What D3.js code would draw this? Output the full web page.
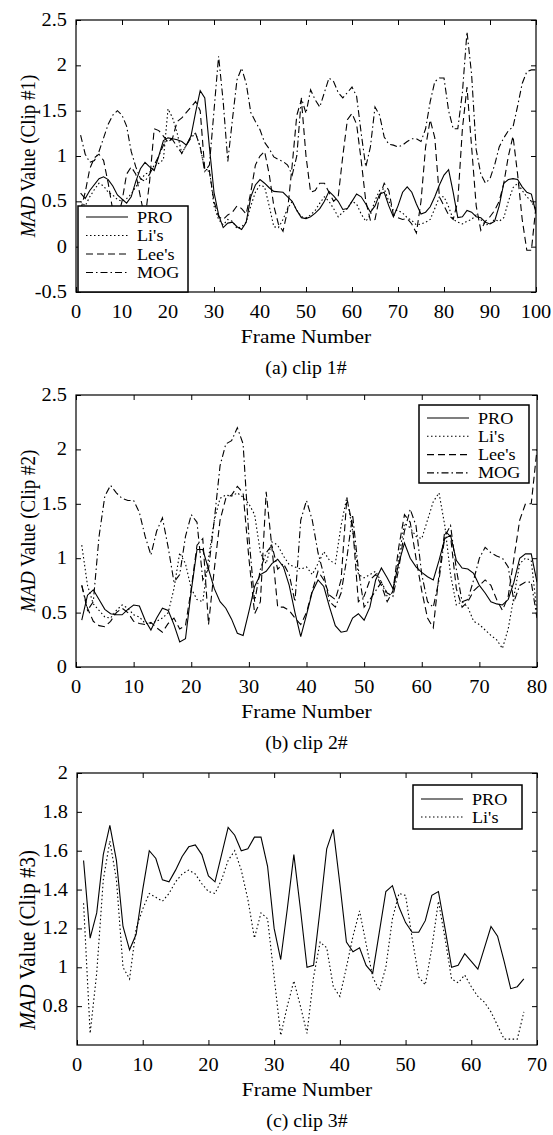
<!DOCTYPE html>
<html>
<head>
<meta charset="utf-8">
<script src="https://cdn.jsdelivr.net/npm/d3@7"></script>
<style>
  body { margin: 0; background: #fff; }
  text { font-family: "Liberation Serif", "Times New Roman", serif; fill: #000; }
</style>
</head>
<body>
<div id="chart"></div>
<script>
// ---- data: [frame, MAD value] ----
const clip1Pro = [[1,0.59],[2,0.53],[3,0.62],[5,0.75],[6,0.77],[7,0.74],[8,0.67],[9,0.57],[11,0.48],[12,0.55],[13,0.72],[14,0.86],[15,0.93],[16,0.88],[17,0.84],[18,1.0],[19,1.17],[20,1.2],[21,1.19],[22,1.18],[23,1.16],[24,1.12],[25,1.22],[26,1.48],[27,1.72],[28,1.64],[29,1.1],[30,0.6],[31,0.35],[32,0.21],[33,0.26],[34,0.27],[35,0.22],[36,0.19],[37,0.27],[38,0.55],[39,0.68],[40,0.74],[41,0.7],[42,0.65],[43,0.61],[45,0.6],[46,0.55],[47,0.5],[48,0.4],[49,0.32],[50,0.31],[51,0.33],[52,0.37],[53,0.42],[54,0.5],[55,0.61],[56,0.56],[57,0.5],[58,0.41],[59,0.42],[60,0.5],[61,0.58],[62,0.55],[63,0.47],[64,0.38],[65,0.45],[66,0.58],[67,0.6],[68,0.45],[69,0.33],[70,0.45],[71,0.6],[72,0.66],[73,0.6],[74,0.47],[75,0.36],[76,0.38],[77,0.44],[78,0.55],[79,0.68],[80,0.79],[81,0.85],[82,0.6],[83,0.32],[84,0.33],[85,0.4],[86,0.38],[87,0.33],[88,0.32],[89,0.27],[90,0.25],[91,0.28],[92,0.45],[93,0.7],[94,0.74],[95,0.75],[96,0.74],[97,0.66],[98,0.6],[99,0.58],[100,0.37]];
const clip1Li = [[1,0.5],[2,0.45],[3,0.55],[4,0.63],[5,0.7],[6,0.67],[7,0.6],[8,0.57],[9,0.52],[10,0.5],[11,0.53],[12,0.58],[13,0.66],[14,0.73],[15,0.8],[16,0.82],[17,0.88],[18,0.92],[19,0.96],[20,1.52],[21,1.42],[22,1.25],[23,1.03],[24,1.12],[25,1.22],[26,1.25],[27,1.1],[28,0.85],[29,0.85],[30,0.45],[31,0.3],[32,0.24],[33,0.3],[34,0.28],[35,0.2],[36,0.22],[37,0.27],[38,0.45],[39,0.6],[40,0.68],[41,0.66],[42,0.45],[43,0.22],[44,0.21],[45,0.3],[46,0.42],[47,0.5],[48,0.4],[49,0.33],[50,0.32],[51,0.35],[52,0.4],[53,0.48],[54,0.55],[55,0.5],[56,0.42],[57,0.33],[58,0.38],[59,0.42],[60,0.5],[61,0.47],[62,0.36],[63,0.28],[64,0.35],[65,0.51],[66,0.62],[67,0.64],[68,0.5],[69,0.4],[70,0.4],[71,0.37],[72,0.32],[73,0.29],[74,0.24],[75,0.25],[76,0.27],[77,0.3],[78,0.42],[79,0.55],[80,0.55],[81,0.44],[82,0.3],[83,0.27],[84,0.25],[85,0.28],[86,0.3],[87,0.35],[88,0.3],[89,0.24],[90,0.25],[91,0.3],[92,0.28],[93,0.32],[94,0.5],[95,0.65],[96,0.7],[97,0.62],[98,0.55],[99,0.5],[100,0.4]];
const clip1Lee = [[1,0.4],[2,0.6],[3,0.86],[4,0.98],[5,1.02],[6,0.95],[7,0.7],[8,0.4],[9,0.3],[10,0.5],[11,0.8],[12,0.88],[13,0.8],[14,0.55],[15,0.3],[16,0.72],[17,1.3],[18,1.28],[19,1.22],[20,1.15],[21,1.2],[22,1.38],[23,1.42],[24,1.48],[25,1.54],[26,1.6],[27,1.5],[28,0.85],[29,0.83],[30,0.5],[31,0.33],[32,0.3],[33,0.35],[34,0.38],[35,0.45],[36,0.42],[37,0.36],[38,0.6],[39,0.9],[40,1.0],[41,1.05],[42,0.8],[43,0.45],[44,0.25],[45,0.17],[46,0.4],[47,0.9],[48,1.45],[49,1.62],[50,1.0],[51,0.6],[52,0.62],[53,0.7],[54,0.7],[55,0.6],[56,0.5],[57,0.55],[58,1.0],[59,1.4],[60,1.47],[61,1.35],[62,0.95],[63,0.5],[64,0.29],[65,0.3],[66,0.55],[67,0.7],[68,0.62],[69,0.35],[70,0.32],[71,0.3],[72,0.31],[73,0.25],[74,0.15],[75,0.5],[76,1.1],[77,1.4],[78,1.2],[79,0.55],[80,0.45],[81,0.35],[82,0.3],[83,0.5],[84,1.3],[85,1.76],[86,1.1],[87,0.45],[88,0.18],[89,0.28],[90,0.33],[91,0.4],[92,0.5],[93,0.7],[94,1.0],[95,1.22],[96,0.8],[97,0.3],[98,-0.04],[99,-0.04],[100,0.45]];
const clip1Mog = [[1,1.23],[2,1.02],[3,0.93],[4,0.95],[5,1.05],[6,1.2],[7,1.35],[8,1.45],[9,1.5],[10,1.45],[11,1.33],[12,1.05],[13,0.88],[14,0.75],[15,0.72],[16,0.8],[17,0.9],[18,1.0],[19,1.12],[20,1.18],[21,1.18],[22,1.1],[23,1.03],[24,1.12],[25,1.2],[26,1.25],[27,1.1],[28,0.83],[29,0.9],[30,1.5],[31,2.1],[32,1.6],[33,0.94],[34,1.4],[35,1.84],[36,1.97],[37,1.8],[38,1.48],[39,1.38],[40,1.29],[41,1.15],[42,1.08],[43,0.99],[44,0.96],[45,0.94],[46,0.9],[47,0.79],[48,1.0],[49,1.64],[50,1.47],[51,1.73],[52,1.62],[53,1.54],[54,1.7],[55,1.86],[56,1.82],[57,1.7],[58,1.64],[59,1.7],[60,1.76],[61,1.66],[62,1.25],[63,0.88],[64,1.1],[65,1.54],[66,1.45],[67,1.21],[68,1.13],[69,1.12],[70,1.1],[71,1.12],[72,1.16],[73,1.19],[74,1.19],[75,1.16],[76,1.3],[77,1.6],[78,1.82],[79,1.86],[80,1.86],[81,1.5],[82,1.3],[83,1.3],[84,1.7],[85,2.37],[86,1.9],[87,1.07],[88,0.8],[89,0.7],[90,0.75],[91,0.9],[92,1.1],[93,1.2],[94,1.28],[95,1.32],[96,1.55],[97,1.8],[98,1.93],[99,1.95],[100,1.95]];

const clip2Pro = [[1,0.43],[2,0.66],[3,0.71],[4,0.62],[5,0.53],[6,0.49],[7,0.48],[8,0.48],[9,0.53],[10,0.57],[11,0.56],[12,0.43],[13,0.34],[14,0.45],[15,0.54],[16,0.52],[17,0.39],[18,0.23],[19,0.26],[20,0.7],[21,1.08],[22,1.08],[23,0.9],[24,0.72],[25,0.6],[26,0.54],[27,0.44],[28,0.31],[29,0.29],[30,0.51],[31,0.74],[32,0.85],[33,0.88],[34,0.95],[35,0.99],[36,0.92],[37,0.75],[38,0.5],[39,0.28],[40,0.48],[41,0.69],[42,0.8],[43,0.74],[44,0.55],[45,0.38],[46,0.32],[47,0.33],[48,0.45],[49,0.49],[50,0.43],[51,0.55],[52,0.8],[53,0.91],[54,0.82],[55,0.72],[56,0.95],[57,1.14],[58,1.0],[59,0.92],[60,0.87],[61,0.83],[62,0.8],[63,0.98],[64,1.18],[65,1.21],[66,0.98],[67,0.91],[68,0.9],[69,0.86],[70,0.75],[71,0.68],[72,0.6],[73,0.58],[74,0.57],[75,0.62],[76,0.78],[77,1.0],[78,1.04],[79,1.04],[80,0.78]];
const clip2Li = [[1,1.12],[2,0.75],[3,0.58],[4,0.52],[5,0.46],[6,0.45],[7,0.52],[8,0.57],[9,0.54],[10,0.48],[11,0.46],[12,0.4],[13,0.4],[14,0.42],[15,0.45],[16,0.5],[17,0.72],[18,1.05],[19,0.95],[20,0.72],[21,0.62],[22,0.6],[23,1.0],[24,1.35],[25,1.55],[26,1.58],[27,1.57],[28,1.6],[29,1.56],[30,1.5],[31,1.4],[32,1.05],[33,0.95],[34,1.15],[35,1.12],[36,1.02],[37,0.94],[38,0.92],[39,0.9],[40,0.92],[41,0.85],[42,0.95],[43,1.06],[44,0.98],[45,0.95],[46,1.3],[47,1.56],[48,1.25],[49,0.85],[50,0.82],[51,0.85],[52,0.88],[53,0.78],[54,0.65],[55,0.68],[56,1.0],[57,1.32],[58,1.28],[59,1.2],[60,1.18],[61,1.35],[62,1.52],[63,1.6],[64,1.3],[65,0.85],[66,0.57],[67,0.6],[68,0.55],[69,0.42],[70,0.39],[71,0.34],[72,0.29],[73,0.25],[74,0.17],[75,0.35],[76,0.65],[77,0.95],[78,1.0],[79,0.98],[80,0.5]];
const clip2Lee = [[1,0.75],[2,0.54],[3,0.42],[4,0.38],[5,0.37],[6,0.42],[7,0.5],[8,0.54],[9,0.5],[10,0.42],[11,0.4],[12,0.39],[13,0.41],[14,0.36],[15,0.32],[16,0.4],[17,0.45],[18,0.35],[19,0.38],[20,0.72],[21,1.12],[22,1.18],[23,0.39],[24,0.9],[25,1.35],[26,1.55],[27,1.58],[28,1.66],[29,1.6],[30,1.0],[31,0.49],[32,0.6],[33,1.61],[34,1.1],[35,0.55],[36,0.55],[37,0.52],[38,0.45],[39,0.39],[40,0.5],[41,0.7],[42,0.88],[43,0.8],[44,0.66],[45,0.62],[46,0.8],[47,1.55],[48,1.3],[49,0.6],[50,0.65],[51,0.8],[52,0.85],[53,0.75],[54,0.6],[55,0.7],[56,1.1],[57,1.4],[58,1.33],[59,1.0],[60,0.7],[61,0.45],[62,0.36],[63,0.85],[64,1.25],[65,1.2],[66,0.72],[67,0.55],[68,0.6],[69,0.7],[70,0.75],[71,0.8],[72,0.75],[73,0.62],[74,0.52],[75,0.65],[76,1.0],[77,1.35],[78,1.5],[79,1.5],[80,2.0]];
const clip2Mog = [[1,0.75],[2,0.52],[3,0.6],[4,1.2],[5,1.57],[6,1.67],[7,1.6],[8,1.55],[9,1.53],[10,1.53],[11,1.42],[12,1.2],[13,1.03],[14,1.25],[15,1.37],[16,1.1],[17,0.78],[18,0.85],[19,1.2],[20,1.4],[21,1.33],[22,0.8],[23,0.9],[24,1.35],[25,1.85],[26,2.05],[27,2.08],[28,2.2],[29,2.05],[30,1.2],[31,0.6],[32,0.9],[33,1.05],[34,1.12],[35,0.9],[36,0.95],[37,0.85],[38,0.6],[39,1.35],[40,1.53],[41,1.35],[42,1.05],[43,0.85],[44,0.6],[45,0.55],[46,0.68],[47,1.0],[48,1.4],[49,0.9],[50,0.55],[51,0.62],[52,0.7],[53,0.78],[54,0.68],[55,0.65],[56,0.9],[57,1.25],[58,1.45],[59,1.3],[60,0.85],[61,0.6],[62,0.55],[63,0.8],[64,1.2],[65,1.3],[66,0.9],[67,0.6],[68,0.62],[69,0.8],[70,1.0],[71,1.1],[72,1.05],[73,1.02],[74,1.0],[75,0.92],[76,0.6],[77,0.75],[78,0.78],[79,0.78],[80,0.45]];

const clip3Pro = [[1,1.55],[2,1.15],[3,1.28],[4,1.58],[5,1.73],[6,1.55],[7,1.21],[8,1.09],[9,1.17],[10,1.4],[11,1.6],[12,1.56],[13,1.45],[14,1.44],[15,1.5],[16,1.57],[17,1.62],[18,1.63],[19,1.58],[20,1.47],[21,1.44],[22,1.58],[23,1.72],[24,1.68],[25,1.6],[26,1.61],[27,1.67],[28,1.67],[29,1.52],[30,1.2],[31,1.04],[32,1.3],[33,1.58],[34,1.3],[35,1.0],[36,1.01],[37,1.3],[38,1.61],[39,1.71],[40,1.43],[41,1.13],[42,1.08],[43,1.1],[44,1.01],[45,0.97],[46,1.18],[47,1.39],[48,1.42],[49,1.31],[50,1.23],[51,1.18],[52,1.18],[53,1.24],[54,1.37],[55,1.39],[56,1.2],[57,1.0],[58,1.01],[59,1.07],[60,1.03],[61,0.99],[62,1.1],[63,1.21],[64,1.16],[65,1.03],[66,0.89],[67,0.9],[68,0.94]];
const clip3Li = [[1,1.33],[2,0.66],[3,0.97],[4,1.45],[5,1.65],[6,1.45],[7,1.0],[8,0.94],[9,1.2],[10,1.3],[11,1.38],[12,1.36],[13,1.34],[14,1.38],[15,1.44],[16,1.48],[17,1.5],[18,1.48],[19,1.43],[20,1.39],[21,1.38],[22,1.45],[23,1.55],[24,1.6],[25,1.5],[26,1.35],[27,1.15],[28,1.28],[29,1.25],[30,0.95],[31,0.65],[32,0.8],[33,0.93],[34,0.8],[35,0.66],[36,0.95],[37,1.13],[38,1.1],[39,0.9],[40,0.85],[41,1.0],[42,1.16],[43,1.29],[44,1.12],[45,0.95],[46,0.88],[47,1.0],[48,1.25],[49,1.38],[50,1.37],[51,1.15],[52,0.95],[53,0.91],[54,1.1],[55,1.34],[56,1.15],[57,0.94],[58,0.92],[59,0.96],[60,0.9],[61,0.85],[62,0.82],[63,0.77],[64,0.7],[65,0.63],[66,0.63],[67,0.63],[68,0.77]];

// tick labels
const clip1XTicks = [0,10,20,30,40,50,60,70,80,90,100];
const clip1YTicks = [-0.5,0,0.5,1,1.5,2,2.5];
const clip2XTicks = [0,10,20,30,40,50,60,70,80];
const clip2YTicks = [0,0.5,1,1.5,2,2.5];
const clip3XTicks = [0,10,20,30,40,50,60,70];
const clip3YTicks = [0.8,1,1.2,1.4,1.6,1.8,2];

const seriesNames = ["PRO", "Li's", "Lee's", "MOG"];
const dashes = { "PRO": null, "Li's": "1.5,2.5", "Lee's": "7,4", "MOG": "7,3,1.5,3" };

// ---- layout ----
const width = 553, height = 1135;
const SX = 1.1; // the picture is a bit wider than tall, so glyphs get stretched sideways

const svg = d3.select("#chart").append("svg")
  .attr("width", width)
  .attr("height", height);

function label(g, x, y, str, size, anchor) {
  return g.append("text")
    .attr("transform", `translate(${x},${y}) scale(${SX},1)`)
    .attr("text-anchor", anchor)
    .style("font-size", size + "px")
    .text(str);
}

function drawPanel(p, idx) {
  const g = svg.append("g");
  const x = d3.scaleLinear().domain([0, p.xTicks[p.xTicks.length - 1]]).range([p.left, p.right]);
  const y = d3.scaleLinear().domain(p.yDomain).range([p.bottom, p.top]);

  g.append("clipPath").attr("id", "clip" + idx)
    .append("rect")
    .attr("x", p.left).attr("y", p.top)
    .attr("width", p.right - p.left).attr("height", p.bottom - p.top);

  // inward ticks on all four sides
  g.append("g").attr("transform", `translate(0,${p.bottom})`)
    .call(d3.axisBottom(x).tickValues(p.xTicks).tickSize(-5).tickFormat(""));
  g.append("g").attr("transform", `translate(0,${p.top})`)
    .call(d3.axisTop(x).tickValues(p.xTicks).tickSize(-5).tickFormat(""));
  g.append("g").attr("transform", `translate(${p.left},0)`)
    .call(d3.axisLeft(y).tickValues(p.yTicks).tickSize(-5).tickFormat(""));
  g.append("g").attr("transform", `translate(${p.right},0)`)
    .call(d3.axisRight(y).tickValues(p.yTicks).tickSize(-5).tickFormat(""));
  g.selectAll(".domain").remove();
  g.selectAll(".tick line").attr("stroke", "#000").attr("stroke-width", 1);

  // tick labels
  p.xTicks.forEach(t => label(g, x(t), p.bottom + 26, String(t), 18.5, "middle"));
  p.yTicks.forEach(t => label(g, p.left - 9, y(t) + 6, String(t), 18.5, "end"));

  // series
  const line = d3.line().x(d => x(d[0])).y(d => y(d[1]));
  p.series.forEach((s, i) => {
    g.append("path")
      .datum(s)
      .attr("clip-path", `url(#clip${idx})`)
      .attr("fill", "none")
      .attr("stroke", "#000")
      .attr("stroke-width", 1.1)
      .attr("stroke-dasharray", dashes[seriesNames[i]])
      .attr("d", line);
  });

  // frame
  g.append("rect")
    .attr("x", p.left).attr("y", p.top)
    .attr("width", p.right - p.left).attr("height", p.bottom - p.top)
    .attr("fill", "none").attr("stroke", "#000").attr("stroke-width", 1.2);

  // legend
  const L = p.legend;
  g.append("rect")
    .attr("x", L.x).attr("y", L.y).attr("width", L.w).attr("height", L.h)
    .attr("fill", "#fff").attr("stroke", "#000").attr("stroke-width", 1.5);
  p.series.forEach((s, i) => {
    const ry = L.y + L.first + i * L.step;
    g.append("line")
      .attr("x1", L.x + 8).attr("x2", L.x + 50)
      .attr("y1", ry).attr("y2", ry)
      .attr("stroke", "#000").attr("stroke-width", 1.1)
      .attr("stroke-dasharray", dashes[seriesNames[i]]);
    label(g, L.x + 59, ry + 5.5, seriesNames[i], 16.5, "start");
  });

  // axis titles and caption
  const yl = g.append("text")
    .attr("transform", `translate(35,${p.labelY}) scale(${SX},1) rotate(-90)`)
    .attr("text-anchor", "middle")
    .style("font-size", p.labelSize + "px");
  yl.append("tspan").style("font-style", "italic").text("MAD");
  yl.append("tspan").text(" Value " + p.ylabel);

  label(g, (p.left + p.right) / 2, p.bottom + 51, "Frame Number", 19.5, "middle");
  label(g, (p.left + p.right) / 2, p.bottom + 82, p.caption, 18, "middle");
}

const panels = [
  { top: 20, bottom: 292, left: 76, right: 536, xTicks: clip1XTicks, yTicks: clip1YTicks, yDomain: [-0.5, 2.5],
    series: [clip1Pro, clip1Li, clip1Lee, clip1Mog], ylabel: "(Clip #1)", caption: "(a) clip 1#", labelY: 156, labelSize: 19,
    legend: { x: 78, y: 206, w: 110, h: 86, first: 11, step: 18.5 } },
  { top: 395, bottom: 667, left: 76, right: 537, xTicks: clip2XTicks, yTicks: clip2YTicks, yDomain: [0, 2.5],
    series: [clip2Pro, clip2Li, clip2Lee, clip2Mog], ylabel: "(Clip #2)", caption: "(b) clip 2#", labelY: 531, labelSize: 19,
    legend: { x: 419, y: 405, w: 110, h: 78, first: 13, step: 18.3 } },
  { top: 773, bottom: 1045, left: 77, right: 537, xTicks: clip3XTicks, yTicks: clip3YTicks, yDomain: [0.6, 2],
    series: [clip3Pro, clip3Li], ylabel: "(Clip #3)", caption: "(c) clip 3#", labelY: 940, labelSize: 21,
    legend: { x: 413, y: 785, w: 109, h: 44, first: 14, step: 18 } }
];

panels.forEach(drawPanel);
</script>
</body>
</html>
